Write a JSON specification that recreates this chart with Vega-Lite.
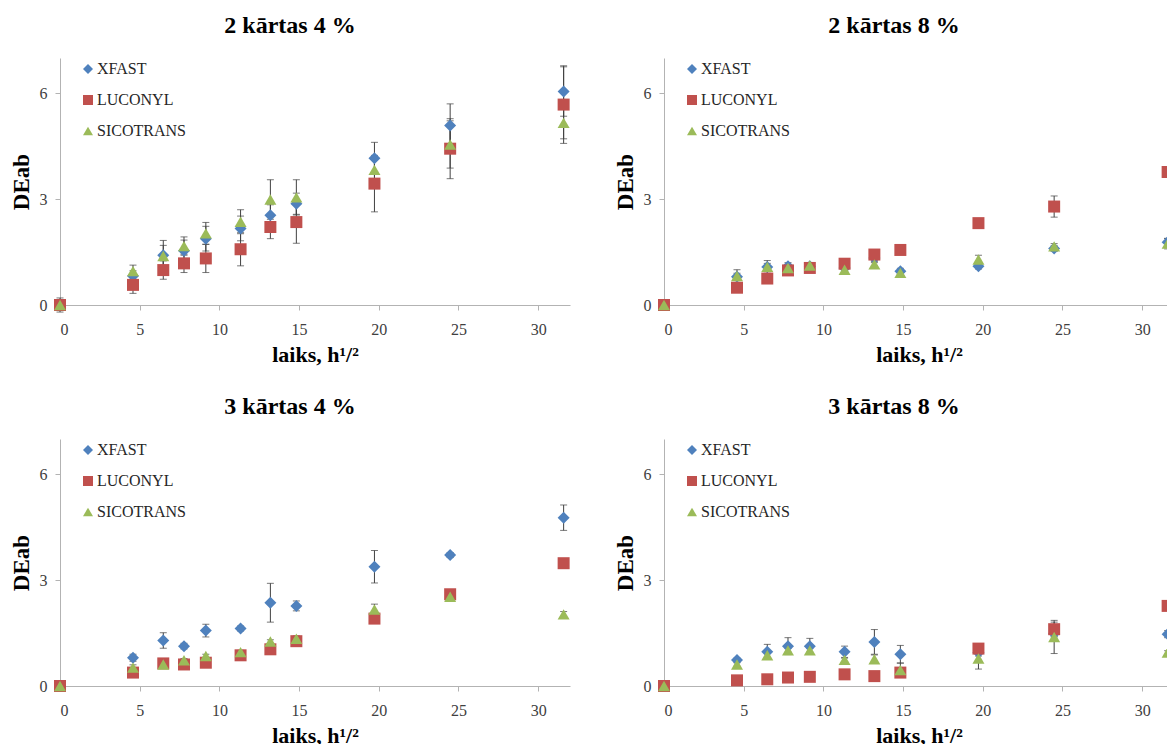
{
  "$schema": "https://vega.github.io/schema/vega-lite/v6.json",
  "background": "white",
  "padding": {"left": 10, "top": 14, "right": 0, "bottom": 0},
  "datasets": {
    "d": [
      {"panel":"2 kārtas 4 %","series":"XFAST","t":0,"dE":0,"err":0.2},
      {"panel":"2 kārtas 4 %","series":"XFAST","t":4.58,"dE":0.82,"err":0.15},
      {"panel":"2 kārtas 4 %","series":"XFAST","t":6.48,"dE":1.41,"err":0.42},
      {"panel":"2 kārtas 4 %","series":"XFAST","t":7.78,"dE":1.54,"err":0.3},
      {"panel":"2 kārtas 4 %","series":"XFAST","t":9.15,"dE":1.88,"err":0.35},
      {"panel":"2 kārtas 4 %","series":"XFAST","t":11.33,"dE":2.17,"err":0.35},
      {"panel":"2 kārtas 4 %","series":"XFAST","t":13.2,"dE":2.54,"err":0.3},
      {"panel":"2 kārtas 4 %","series":"XFAST","t":14.83,"dE":2.87,"err":0.3},
      {"panel":"2 kārtas 4 %","series":"XFAST","t":19.73,"dE":4.16,"err":0.45},
      {"panel":"2 kārtas 4 %","series":"XFAST","t":24.48,"dE":5.09,"err":0.61},
      {"panel":"2 kārtas 4 %","series":"XFAST","t":31.6,"dE":6.05,"err":0.7},
      {"panel":"2 kārtas 4 %","series":"LUCONYL","t":0,"dE":0,"err":0.15},
      {"panel":"2 kārtas 4 %","series":"LUCONYL","t":4.58,"dE":0.57,"err":0.24},
      {"panel":"2 kārtas 4 %","series":"LUCONYL","t":6.48,"dE":0.99,"err":0.26},
      {"panel":"2 kārtas 4 %","series":"LUCONYL","t":7.78,"dE":1.18,"err":0.26},
      {"panel":"2 kārtas 4 %","series":"LUCONYL","t":9.15,"dE":1.32,"err":0.4},
      {"panel":"2 kārtas 4 %","series":"LUCONYL","t":11.33,"dE":1.58,"err":0.47},
      {"panel":"2 kārtas 4 %","series":"LUCONYL","t":13.2,"dE":2.21,"err":0.33},
      {"panel":"2 kārtas 4 %","series":"LUCONYL","t":14.83,"dE":2.35,"err":0.6},
      {"panel":"2 kārtas 4 %","series":"LUCONYL","t":19.73,"dE":3.44,"err":0.8},
      {"panel":"2 kārtas 4 %","series":"LUCONYL","t":24.48,"dE":4.43,"err":0.85},
      {"panel":"2 kārtas 4 %","series":"LUCONYL","t":31.6,"dE":5.68,"err":1.1},
      {"panel":"2 kārtas 4 %","series":"SICOTRANS","t":0,"dE":0,"err":0.1},
      {"panel":"2 kārtas 4 %","series":"SICOTRANS","t":4.58,"dE":0.96,"err":0.17},
      {"panel":"2 kārtas 4 %","series":"SICOTRANS","t":6.48,"dE":1.39,"err":0.3},
      {"panel":"2 kārtas 4 %","series":"SICOTRANS","t":7.78,"dE":1.67,"err":0.26},
      {"panel":"2 kārtas 4 %","series":"SICOTRANS","t":9.15,"dE":2.03,"err":0.31},
      {"panel":"2 kārtas 4 %","series":"SICOTRANS","t":11.33,"dE":2.36,"err":0.34},
      {"panel":"2 kārtas 4 %","series":"SICOTRANS","t":13.2,"dE":2.99,"err":0.56},
      {"panel":"2 kārtas 4 %","series":"SICOTRANS","t":14.83,"dE":3.05,"err":0.5},
      {"panel":"2 kārtas 4 %","series":"SICOTRANS","t":19.73,"dE":3.83,"err":0.3},
      {"panel":"2 kārtas 4 %","series":"SICOTRANS","t":24.48,"dE":4.55,"err":0.67},
      {"panel":"2 kārtas 4 %","series":"SICOTRANS","t":31.6,"dE":5.16,"err":0.45},

      {"panel":"2 kārtas 8 %","series":"XFAST","t":0,"dE":0,"err":0.1},
      {"panel":"2 kārtas 8 %","series":"XFAST","t":4.58,"dE":0.8,"err":0.1},
      {"panel":"2 kārtas 8 %","series":"XFAST","t":6.48,"dE":1.08,"err":0.18},
      {"panel":"2 kārtas 8 %","series":"XFAST","t":7.78,"dE":1.1,"err":0.1},
      {"panel":"2 kārtas 8 %","series":"XFAST","t":9.15,"dE":1.1,"err":0.1},
      {"panel":"2 kārtas 8 %","series":"XFAST","t":11.33,"dE":1.05,"err":0.08},
      {"panel":"2 kārtas 8 %","series":"XFAST","t":13.2,"dE":1.33,"err":0.1},
      {"panel":"2 kārtas 8 %","series":"XFAST","t":14.83,"dE":0.96,"err":0.08},
      {"panel":"2 kārtas 8 %","series":"XFAST","t":19.73,"dE":1.1,"err":0.08},
      {"panel":"2 kārtas 8 %","series":"XFAST","t":24.48,"dE":1.6,"err":0.08},
      {"panel":"2 kārtas 8 %","series":"XFAST","t":31.6,"dE":1.78,"err":0.1},
      {"panel":"2 kārtas 8 %","series":"LUCONYL","t":0,"dE":0,"err":0.12},
      {"panel":"2 kārtas 8 %","series":"LUCONYL","t":4.58,"dE":0.49,"err":0.05},
      {"panel":"2 kārtas 8 %","series":"LUCONYL","t":6.48,"dE":0.75,"err":0.05},
      {"panel":"2 kārtas 8 %","series":"LUCONYL","t":7.78,"dE":0.98,"err":0.05},
      {"panel":"2 kārtas 8 %","series":"LUCONYL","t":9.15,"dE":1.05,"err":0.05},
      {"panel":"2 kārtas 8 %","series":"LUCONYL","t":11.33,"dE":1.17,"err":0.05},
      {"panel":"2 kārtas 8 %","series":"LUCONYL","t":13.2,"dE":1.43,"err":0.05},
      {"panel":"2 kārtas 8 %","series":"LUCONYL","t":14.83,"dE":1.56,"err":0.05},
      {"panel":"2 kārtas 8 %","series":"LUCONYL","t":19.73,"dE":2.32,"err":0.05},
      {"panel":"2 kārtas 8 %","series":"LUCONYL","t":24.48,"dE":2.79,"err":0.3},
      {"panel":"2 kārtas 8 %","series":"LUCONYL","t":31.6,"dE":3.77,"err":0.1},
      {"panel":"2 kārtas 8 %","series":"SICOTRANS","t":0,"dE":0,"err":0.05},
      {"panel":"2 kārtas 8 %","series":"SICOTRANS","t":4.58,"dE":0.82,"err":0.18},
      {"panel":"2 kārtas 8 %","series":"SICOTRANS","t":6.48,"dE":1.08,"err":0.1},
      {"panel":"2 kārtas 8 %","series":"SICOTRANS","t":7.78,"dE":1.05,"err":0.08},
      {"panel":"2 kārtas 8 %","series":"SICOTRANS","t":9.15,"dE":1.12,"err":0.08},
      {"panel":"2 kārtas 8 %","series":"SICOTRANS","t":11.33,"dE":1.0,"err":0.05},
      {"panel":"2 kārtas 8 %","series":"SICOTRANS","t":13.2,"dE":1.15,"err":0.05},
      {"panel":"2 kārtas 8 %","series":"SICOTRANS","t":14.83,"dE":0.91,"err":0.05},
      {"panel":"2 kārtas 8 %","series":"SICOTRANS","t":19.73,"dE":1.29,"err":0.12},
      {"panel":"2 kārtas 8 %","series":"SICOTRANS","t":24.48,"dE":1.66,"err":0.08},
      {"panel":"2 kārtas 8 %","series":"SICOTRANS","t":31.6,"dE":1.74,"err":0.15},

      {"panel":"3 kārtas 4 %","series":"XFAST","t":0,"dE":0,"err":0.05},
      {"panel":"3 kārtas 4 %","series":"XFAST","t":4.58,"dE":0.8,"err":0.1},
      {"panel":"3 kārtas 4 %","series":"XFAST","t":6.48,"dE":1.29,"err":0.22},
      {"panel":"3 kārtas 4 %","series":"XFAST","t":7.78,"dE":1.13,"err":0.08},
      {"panel":"3 kārtas 4 %","series":"XFAST","t":9.15,"dE":1.57,"err":0.18},
      {"panel":"3 kārtas 4 %","series":"XFAST","t":11.33,"dE":1.63,"err":0.07},
      {"panel":"3 kārtas 4 %","series":"XFAST","t":13.2,"dE":2.36,"err":0.55},
      {"panel":"3 kārtas 4 %","series":"XFAST","t":14.83,"dE":2.27,"err":0.14},
      {"panel":"3 kārtas 4 %","series":"XFAST","t":19.73,"dE":3.38,"err":0.46},
      {"panel":"3 kārtas 4 %","series":"XFAST","t":24.48,"dE":3.71,"err":0.07},
      {"panel":"3 kārtas 4 %","series":"XFAST","t":31.6,"dE":4.77,"err":0.36},
      {"panel":"3 kārtas 4 %","series":"LUCONYL","t":0,"dE":0,"err":0.05},
      {"panel":"3 kārtas 4 %","series":"LUCONYL","t":4.58,"dE":0.38,"err":0.05},
      {"panel":"3 kārtas 4 %","series":"LUCONYL","t":6.48,"dE":0.64,"err":0.05},
      {"panel":"3 kārtas 4 %","series":"LUCONYL","t":7.78,"dE":0.61,"err":0.05},
      {"panel":"3 kārtas 4 %","series":"LUCONYL","t":9.15,"dE":0.66,"err":0.05},
      {"panel":"3 kārtas 4 %","series":"LUCONYL","t":11.33,"dE":0.87,"err":0.05},
      {"panel":"3 kārtas 4 %","series":"LUCONYL","t":13.2,"dE":1.04,"err":0.05},
      {"panel":"3 kārtas 4 %","series":"LUCONYL","t":14.83,"dE":1.27,"err":0.05},
      {"panel":"3 kārtas 4 %","series":"LUCONYL","t":19.73,"dE":1.91,"err":0.05},
      {"panel":"3 kārtas 4 %","series":"LUCONYL","t":24.48,"dE":2.6,"err":0.1},
      {"panel":"3 kārtas 4 %","series":"LUCONYL","t":31.6,"dE":3.48,"err":0.05},
      {"panel":"3 kārtas 4 %","series":"SICOTRANS","t":0,"dE":0,"err":0.05},
      {"panel":"3 kārtas 4 %","series":"SICOTRANS","t":4.58,"dE":0.52,"err":0.08},
      {"panel":"3 kārtas 4 %","series":"SICOTRANS","t":6.48,"dE":0.61,"err":0.05},
      {"panel":"3 kārtas 4 %","series":"SICOTRANS","t":7.78,"dE":0.73,"err":0.05},
      {"panel":"3 kārtas 4 %","series":"SICOTRANS","t":9.15,"dE":0.85,"err":0.05},
      {"panel":"3 kārtas 4 %","series":"SICOTRANS","t":11.33,"dE":0.96,"err":0.05},
      {"panel":"3 kārtas 4 %","series":"SICOTRANS","t":13.2,"dE":1.26,"err":0.05},
      {"panel":"3 kārtas 4 %","series":"SICOTRANS","t":14.83,"dE":1.34,"err":0.08},
      {"panel":"3 kārtas 4 %","series":"SICOTRANS","t":19.73,"dE":2.17,"err":0.15},
      {"panel":"3 kārtas 4 %","series":"SICOTRANS","t":24.48,"dE":2.53,"err":0.1},
      {"panel":"3 kārtas 4 %","series":"SICOTRANS","t":31.6,"dE":2.03,"err":0.08},

      {"panel":"3 kārtas 8 %","series":"XFAST","t":0,"dE":0,"err":0.05},
      {"panel":"3 kārtas 8 %","series":"XFAST","t":4.58,"dE":0.74,"err":0.05},
      {"panel":"3 kārtas 8 %","series":"XFAST","t":6.48,"dE":0.97,"err":0.21},
      {"panel":"3 kārtas 8 %","series":"XFAST","t":7.78,"dE":1.13,"err":0.24},
      {"panel":"3 kārtas 8 %","series":"XFAST","t":9.15,"dE":1.13,"err":0.22},
      {"panel":"3 kārtas 8 %","series":"XFAST","t":11.33,"dE":0.97,"err":0.16},
      {"panel":"3 kārtas 8 %","series":"XFAST","t":13.2,"dE":1.25,"err":0.35},
      {"panel":"3 kārtas 8 %","series":"XFAST","t":14.83,"dE":0.9,"err":0.25},
      {"panel":"3 kārtas 8 %","series":"XFAST","t":19.73,"dE":0.95,"err":0.1},
      {"panel":"3 kārtas 8 %","series":"XFAST","t":24.48,"dE":1.49,"err":0.1},
      {"panel":"3 kārtas 8 %","series":"XFAST","t":31.6,"dE":1.47,"err":0.1},
      {"panel":"3 kārtas 8 %","series":"LUCONYL","t":0,"dE":0,"err":0.03},
      {"panel":"3 kārtas 8 %","series":"LUCONYL","t":4.58,"dE":0.16,"err":0.03},
      {"panel":"3 kārtas 8 %","series":"LUCONYL","t":6.48,"dE":0.19,"err":0.03},
      {"panel":"3 kārtas 8 %","series":"LUCONYL","t":7.78,"dE":0.24,"err":0.03},
      {"panel":"3 kārtas 8 %","series":"LUCONYL","t":9.15,"dE":0.26,"err":0.03},
      {"panel":"3 kārtas 8 %","series":"LUCONYL","t":11.33,"dE":0.33,"err":0.03},
      {"panel":"3 kārtas 8 %","series":"LUCONYL","t":13.2,"dE":0.28,"err":0.03},
      {"panel":"3 kārtas 8 %","series":"LUCONYL","t":14.83,"dE":0.38,"err":0.03},
      {"panel":"3 kārtas 8 %","series":"LUCONYL","t":19.73,"dE":1.06,"err":0.05},
      {"panel":"3 kārtas 8 %","series":"LUCONYL","t":24.48,"dE":1.61,"err":0.2},
      {"panel":"3 kārtas 8 %","series":"LUCONYL","t":31.6,"dE":2.27,"err":0.05},
      {"panel":"3 kārtas 8 %","series":"SICOTRANS","t":0,"dE":0,"err":0.03},
      {"panel":"3 kārtas 8 %","series":"SICOTRANS","t":4.58,"dE":0.61,"err":0.05},
      {"panel":"3 kārtas 8 %","series":"SICOTRANS","t":6.48,"dE":0.87,"err":0.1},
      {"panel":"3 kārtas 8 %","series":"SICOTRANS","t":7.78,"dE":1.01,"err":0.05},
      {"panel":"3 kārtas 8 %","series":"SICOTRANS","t":9.15,"dE":1.01,"err":0.05},
      {"panel":"3 kārtas 8 %","series":"SICOTRANS","t":11.33,"dE":0.74,"err":0.05},
      {"panel":"3 kārtas 8 %","series":"SICOTRANS","t":13.2,"dE":0.76,"err":0.12},
      {"panel":"3 kārtas 8 %","series":"SICOTRANS","t":14.83,"dE":0.45,"err":0.2},
      {"panel":"3 kārtas 8 %","series":"SICOTRANS","t":19.73,"dE":0.78,"err":0.3},
      {"panel":"3 kārtas 8 %","series":"SICOTRANS","t":24.48,"dE":1.39,"err":0.47},
      {"panel":"3 kārtas 8 %","series":"SICOTRANS","t":31.6,"dE":0.95,"err":0.05}
    ]
  },
  "data": {"name": "d"},
  "columns": 2,
  "spacing": {"column": 44, "row": 30},
  "resolve": {"legend": {"color": "independent", "shape": "independent"}},
  "config": {
    "view": {"stroke": null},
    "font": "Liberation Serif",
    "title": {"font": "Liberation Serif", "fontSize": 24, "fontWeight": "bold", "color": "black", "offset": 20, "frame": "bounds", "anchor": "middle"},
    "axis": {
      "grid": false,
      "domainColor": "#b3b3b3",
      "tickColor": "#b3b3b3",
      "tickSize": 5,
      "labelFont": "Liberation Serif",
      "labelFontSize": 16,
      "labelColor": "#404040",
      "labelPadding": 8,
      "titleFont": "Liberation Serif",
      "titleFontSize": 22,
      "titleFontWeight": "bold",
      "titleColor": "black"
    },
    "axisX": {"labelPadding": 11},
    "axisY": {"titleFontSize": 23},
    "legend": {
      "labelFont": "Liberation Serif",
      "labelFontSize": 16,
      "labelColor": "#262626",
      "symbolSize": 100,
      "symbolStrokeWidth": 0,
      "rowPadding": 15,
      "labelOffset": 1,
      "padding": 0
    }
  },
  "concat": [
    {
      "title": "2 kārtas 4 %",
      "width": 510, "height": 247,
      "transform": [{"filter": "datum.panel === '2 kārtas 4 %'"}],
      "encoding": {
        "x": {"field": "t", "type": "quantitative", "scale": {"domain": [0, 32], "nice": false}, "axis": {"values": [0,5,10,15,20,25,30], "title": "laiks, h¹/²", "titlePadding": 7}},
        "y": {"field": "dE", "type": "quantitative", "scale": {"domain": [0, 7], "nice": false}, "axis": {"values": [0,3,6], "title": "DEab", "titlePadding": 6}}
      },
      "layer": [
        {"mark": {"type": "errorbar", "ticks": {"size": 7}, "color": "#404040", "thickness": 1}, "encoding": {"yError": {"field": "err"}, "detail": {"field": "series"}}},
        {"mark": {"type": "point", "filled": true, "size": 144, "opacity": 1},
         "encoding": {
           "color": {"field": "series", "type": "nominal", "scale": {"domain": ["XFAST","LUCONYL","SICOTRANS"], "range": ["#4F81BD","#C0504D","#9BBB59"]}, "legend": {"title": null, "orient": "none", "legendX": 20, "legendY": 3}},
           "shape": {"field": "series", "type": "nominal", "scale": {"domain": ["XFAST","LUCONYL","SICOTRANS"], "range": ["diamond","square","triangle-up"]}, "legend": {"title": null, "orient": "none", "legendX": 20, "legendY": 3}}
         }}
      ]
    },
    {
      "title": "2 kārtas 8 %",
      "width": 510, "height": 247,
      "transform": [{"filter": "datum.panel === '2 kārtas 8 %'"}],
      "encoding": {
        "x": {"field": "t", "type": "quantitative", "scale": {"domain": [0, 32], "nice": false}, "axis": {"values": [0,5,10,15,20,25,30], "title": "laiks, h¹/²", "titlePadding": 7}},
        "y": {"field": "dE", "type": "quantitative", "scale": {"domain": [0, 7], "nice": false}, "axis": {"values": [0,3,6], "title": "DEab", "titlePadding": 6}}
      },
      "layer": [
        {"mark": {"type": "errorbar", "ticks": {"size": 7}, "color": "#404040", "thickness": 1}, "encoding": {"yError": {"field": "err"}, "detail": {"field": "series"}}},
        {"mark": {"type": "point", "filled": true, "size": 144, "opacity": 1},
         "encoding": {
           "color": {"field": "series", "type": "nominal", "scale": {"domain": ["XFAST","LUCONYL","SICOTRANS"], "range": ["#4F81BD","#C0504D","#9BBB59"]}, "legend": {"title": null, "orient": "none", "legendX": 20, "legendY": 3}},
           "shape": {"field": "series", "type": "nominal", "scale": {"domain": ["XFAST","LUCONYL","SICOTRANS"], "range": ["diamond","square","triangle-up"]}, "legend": {"title": null, "orient": "none", "legendX": 20, "legendY": 3}}
         }}
      ]
    },
    {
      "title": "3 kārtas 4 %",
      "width": 510, "height": 247,
      "transform": [{"filter": "datum.panel === '3 kārtas 4 %'"}],
      "encoding": {
        "x": {"field": "t", "type": "quantitative", "scale": {"domain": [0, 32], "nice": false}, "axis": {"values": [0,5,10,15,20,25,30], "title": "laiks, h¹/²", "titlePadding": 7}},
        "y": {"field": "dE", "type": "quantitative", "scale": {"domain": [0, 7], "nice": false}, "axis": {"values": [0,3,6], "title": "DEab", "titlePadding": 6}}
      },
      "layer": [
        {"mark": {"type": "errorbar", "ticks": {"size": 7}, "color": "#404040", "thickness": 1}, "encoding": {"yError": {"field": "err"}, "detail": {"field": "series"}}},
        {"mark": {"type": "point", "filled": true, "size": 144, "opacity": 1},
         "encoding": {
           "color": {"field": "series", "type": "nominal", "scale": {"domain": ["XFAST","LUCONYL","SICOTRANS"], "range": ["#4F81BD","#C0504D","#9BBB59"]}, "legend": {"title": null, "orient": "none", "legendX": 20, "legendY": 3}},
           "shape": {"field": "series", "type": "nominal", "scale": {"domain": ["XFAST","LUCONYL","SICOTRANS"], "range": ["diamond","square","triangle-up"]}, "legend": {"title": null, "orient": "none", "legendX": 20, "legendY": 3}}
         }}
      ]
    },
    {
      "title": "3 kārtas 8 %",
      "width": 510, "height": 247,
      "transform": [{"filter": "datum.panel === '3 kārtas 8 %'"}],
      "encoding": {
        "x": {"field": "t", "type": "quantitative", "scale": {"domain": [0, 32], "nice": false}, "axis": {"values": [0,5,10,15,20,25,30], "title": "laiks, h¹/²", "titlePadding": 7}},
        "y": {"field": "dE", "type": "quantitative", "scale": {"domain": [0, 7], "nice": false}, "axis": {"values": [0,3,6], "title": "DEab", "titlePadding": 6}}
      },
      "layer": [
        {"mark": {"type": "errorbar", "ticks": {"size": 7}, "color": "#404040", "thickness": 1}, "encoding": {"yError": {"field": "err"}, "detail": {"field": "series"}}},
        {"mark": {"type": "point", "filled": true, "size": 144, "opacity": 1},
         "encoding": {
           "color": {"field": "series", "type": "nominal", "scale": {"domain": ["XFAST","LUCONYL","SICOTRANS"], "range": ["#4F81BD","#C0504D","#9BBB59"]}, "legend": {"title": null, "orient": "none", "legendX": 20, "legendY": 3}},
           "shape": {"field": "series", "type": "nominal", "scale": {"domain": ["XFAST","LUCONYL","SICOTRANS"], "range": ["diamond","square","triangle-up"]}, "legend": {"title": null, "orient": "none", "legendX": 20, "legendY": 3}}
         }}
      ]
    }
  ]
}
